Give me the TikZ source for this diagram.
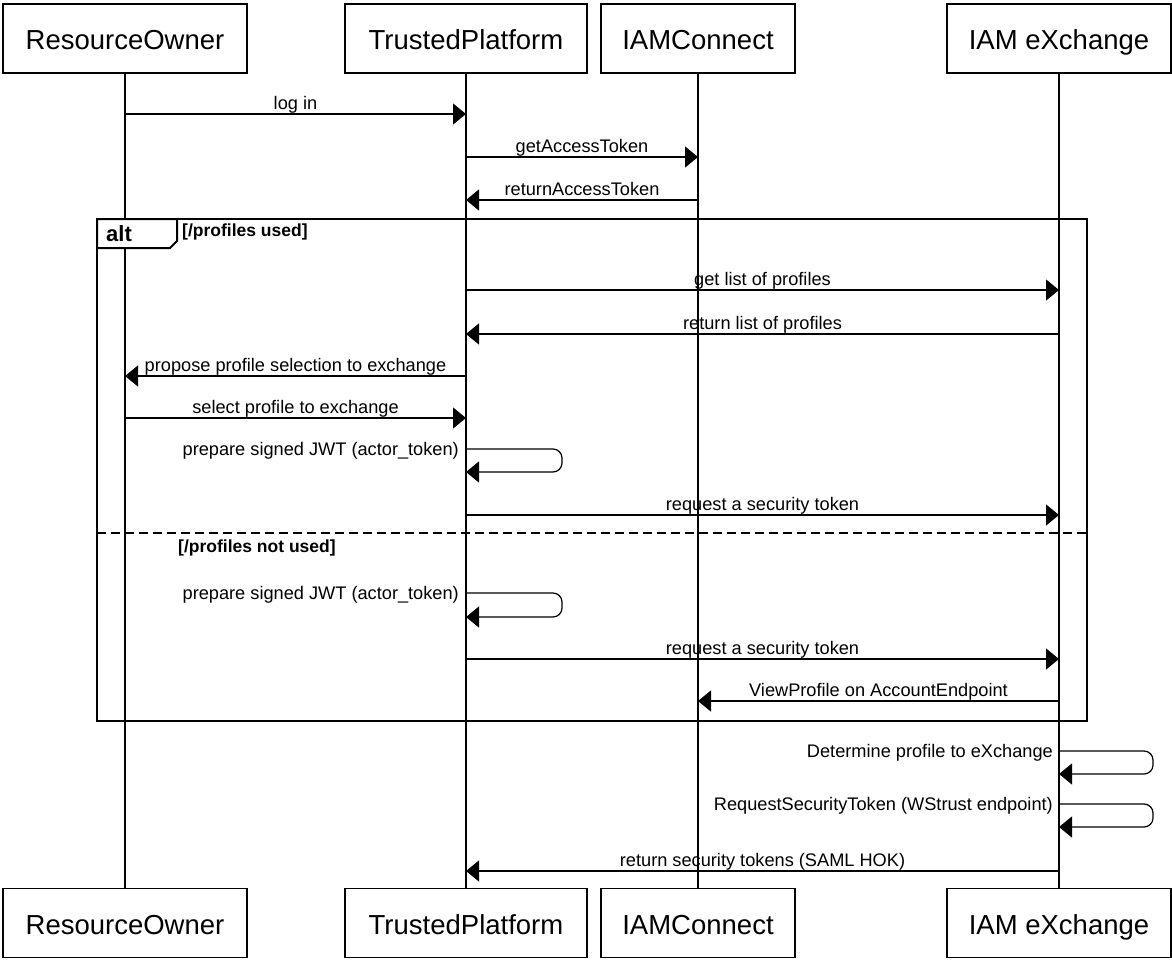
\documentclass[tikz,border=0pt]{standalone}
\usepackage{fontspec}
\setmainfont{Liberation Sans}
\usetikzlibrary{arrows.meta}
\begin{document}
\begin{tikzpicture}[x=1pt,y=-1pt,
  part/.style={draw, line width=1.3pt, minimum height=69pt, inner sep=0pt, text height=22pt, text depth=0pt, font=\fontsize{27.5}{30}\selectfont},
  life/.style={line width=1.2pt},
  msg/.style={line width=1.2pt, -{Triangle[length=13pt,width=21pt]}},
  lbl/.style={anchor=base, inner sep=0pt, yshift=4.5pt, font=\fontsize{18.2}{20}\selectfont},
  slbl/.style={anchor=base east, inner sep=0pt, font=\fontsize{18.2}{20}\selectfont},
  altframe/.style={line width=2pt},
  guard/.style={anchor=west, inner sep=0pt, font=\bfseries\fontsize{17.5}{20}\selectfont},
  loopmsg/.style={msg, rounded corners=9pt}]
\useasboundingbox (0,0) rectangle (1172,959);
% participants
\node[part, minimum width=244pt] (roT) at (125,38.5) {ResourceOwner};
\node[part, minimum width=242pt] (tpT) at (466,38.5) {TrustedPlatform};
\node[part, minimum width=194pt] (icT) at (698,38.5) {IAMConnect};
\node[part, minimum width=224pt] (ixT) at (1059,38.5) {IAM eXchange};
\node[part, minimum width=244pt] (roB) at (125,923) {ResourceOwner};
\node[part, minimum width=242pt] (tpB) at (466,923) {TrustedPlatform};
\node[part, minimum width=194pt] (icB) at (698,923) {IAMConnect};
\node[part, minimum width=224pt] (ixB) at (1059,923) {IAM eXchange};
% lifelines
\draw[life] (roT) -- (roB);
\draw[life] (tpT) -- (tpB);
\draw[life] (icT) -- (icB);
\draw[life] (ixT) -- (ixB);
% alt frame
\coordinate (fTL) at (97,219);
\coordinate (fBR) at (1087,721);
\draw[altframe] (fTL) rectangle (fBR);
\coordinate (sepL) at (97,533);
\coordinate (sepR) at (1087,533);
\draw[altframe, dash pattern=on 9pt off 5pt] (sepL) -- (sepR);
\draw[altframe, fill=white] (fTL) -- (177,219) -- (177,241) -- (170,248) -- (97,248) -- cycle;
\node[anchor=west, inner sep=0pt, font=\bfseries\fontsize{22}{24}\selectfont] (altlbl) at (106,234) {alt};
\node[guard] (g1) at (182,232) {[/profiles used]};
\node[guard] (g2) at (178,548) {[/profiles not used]};
% message rows
\coordinate (y1) at (0,114);
\coordinate (y2) at (0,157);
\coordinate (y3) at (0,200);
\coordinate (y4) at (0,290);
\coordinate (y5) at (0,334);
\coordinate (y6) at (0,376);
\coordinate (y7) at (0,418);
\coordinate (y8) at (0,449);
\coordinate (y9) at (0,515);
\coordinate (y10) at (0,593);
\coordinate (y11) at (0,659);
\coordinate (y12) at (0,701);
\coordinate (y13) at (0,751);
\coordinate (y14) at (0,804);
\coordinate (y15) at (0,871);
\draw[msg] (roT |- y1) -- (tpT |- y1) node[lbl, midway] {log in};
\draw[msg] (tpT |- y2) -- (icT |- y2) node[lbl, midway] {getAccessToken};
\draw[msg] (icT |- y3) -- (tpT |- y3) node[lbl, midway] {returnAccessToken};
\draw[msg] (tpT |- y4) -- (ixT |- y4) node[lbl, midway] {get list of profiles};
\draw[msg] (ixT |- y5) -- (tpT |- y5) node[lbl, midway] {return list of profiles};
\draw[msg] (tpT |- y6) -- (roT |- y6) node[lbl, midway] {propose profile selection to exchange};
\draw[msg] (roT |- y7) -- (tpT |- y7) node[lbl, midway] {select profile to exchange};
\draw[loopmsg] (tpT |- y8) -- ++(96,0) -- ++(0,23) -- ++(-96,0);
\node[slbl] (s1) at ([xshift=-7pt,yshift=-6pt] tpT |- y8) {prepare signed JWT (actor\_token)};
\draw[msg] (tpT |- y9) -- (ixT |- y9) node[lbl, midway] {request a security token};
\draw[loopmsg] (tpT |- y10) -- ++(96,0) -- ++(0,24) -- ++(-96,0);
\node[slbl] (s2) at ([xshift=-7pt,yshift=-6pt] tpT |- y10) {prepare signed JWT (actor\_token)};
\draw[msg] (tpT |- y11) -- (ixT |- y11) node[lbl, midway] {request a security token};
\draw[msg] (ixT |- y12) -- (icT |- y12) node[lbl, midway] {ViewProfile on AccountEndpoint};
\draw[loopmsg] (ixT |- y13) -- ++(94,0) -- ++(0,23) -- ++(-94,0);
\node[slbl] (s3) at ([xshift=-6pt,yshift=-6pt] ixT |- y13) {Determine profile to eXchange};
\draw[loopmsg] (ixT |- y14) -- ++(94,0) -- ++(0,23) -- ++(-94,0);
\node[slbl] (s4) at ([xshift=-6pt,yshift=-6pt] ixT |- y14) {RequestSecurityToken (WStrust endpoint)};
\draw[msg] (ixT |- y15) -- (tpT |- y15) node[lbl, midway] {return security tokens (SAML HOK)};
\end{tikzpicture}
\end{document}
